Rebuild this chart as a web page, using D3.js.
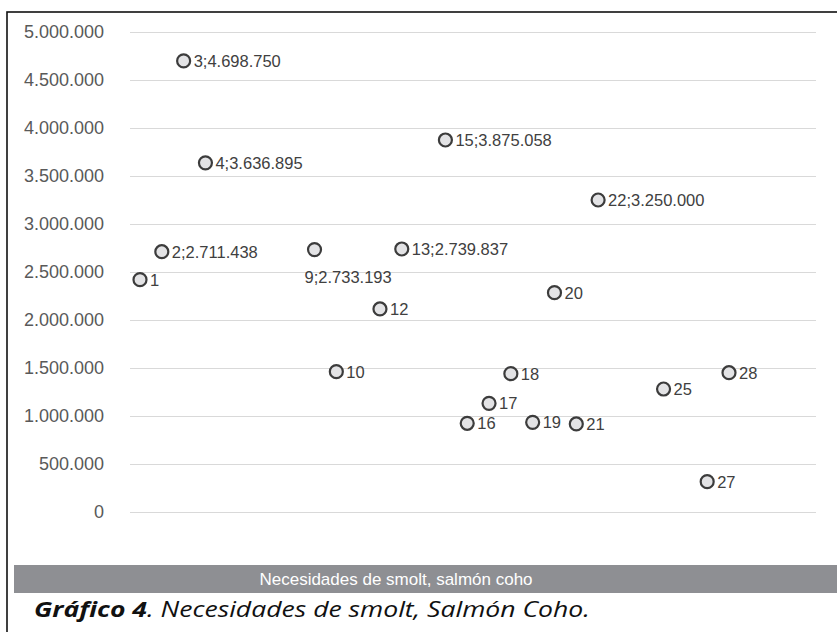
<!DOCTYPE html>
<html lang="es">
<head>
<meta charset="utf-8">
<script src="https://cdn.jsdelivr.net/npm/d3@7"></script>
<style>
  body { margin: 0; background: #fff; }
  svg { display: block; }
</style>
</head>
<body>
<script>
    // Data points (id = plant / site number, value = smolt needed)
    const ids = [1, 2, 3, 4, 9, 10, 12, 13, 15, 16, 17, 18, 19, 20, 21, 22, 25, 27, 28];
    const smolt = [2420000, 2711438, 4698750, 3636895, 2733193, 1462000, 2115000, 2739837, 3875058,
                   924000, 1132000, 1441000, 934000, 2285000, 917000, 3250000, 1281000, 316000, 1451000];
    // points whose label also shows the value
    const withValue = [2, 3, 4, 9, 13, 15, 22];
    const yTicks = [0, 500000, 1000000, 1500000, 2000000, 2500000, 3000000, 3500000, 4000000, 4500000, 5000000];
    const barTitle = 'Necesidades de smolt, salmón coho';
    const captionBold = 'Gráfico 4';
    const captionRest = '. Necesidades de smolt, Salmón Coho.';

    const w = 837
    const h = 632
    const plot = {left: 130, right: 816, top: 32, bottom: 512}

    const locale = d3.formatLocale({decimal: ',', thousands: '.', grouping: [3], currency: ['', '']});
    const fmt = locale.format(',d');

    const dataset = ids.map(function(id, i) { return {id: id, value: smolt[i]}; });

    const xScale = d3.scaleLinear()
        .domain([1, 28])
        .range([140, 729])
    const yScale = d3.scaleLinear()
        .domain([0, 5000000])
        .range([plot.bottom, plot.top])

    const svg = d3.select('body')
        .append('svg')
        .attr('width', w)
        .attr('height', h)

    // outer frame (runs off the right and bottom edges)
    svg.append('rect')
        .attr('x', 7)
        .attr('y', 12)
        .attr('width', w)
        .attr('height', h)
        .attr('fill', 'none')
        .attr('stroke', '#111')
        .attr('stroke-width', 1.6)

    // y axis with gridlines
    const yAxis = d3.axisLeft(yScale)
        .tickValues(yTicks)
        .tickFormat(fmt)
        .tickSize(-(plot.right - plot.left))
        .tickPadding(26)
    const gy = svg.append('g')
        .attr('transform', 'translate(' + plot.left + ',0)')
        .call(yAxis)
    gy.select('.domain').remove()
    gy.selectAll('line').attr('stroke', '#d9d9d9').attr('stroke-width', 1)
    gy.selectAll('text')
        .attr('fill', '#595959')
        .style('font-family', '"Liberation Sans", Arial, sans-serif')
        .style('font-size', '18px')

    // markers
    svg.append('g')
        .selectAll('circle')
        .data(dataset)
        .enter()
        .append('circle')
        .attr('cx', function(d) { return xScale(d.id); })
        .attr('cy', function(d) { return yScale(d.value); })
        .attr('r', 6.5)
        .attr('fill', '#e3e3e5')
        .attr('stroke', '#3c3c3c')
        .attr('stroke-width', 2.2)

    // data labels (label 9 sits under its marker)
    svg.append('g')
        .selectAll('text')
        .data(dataset)
        .enter()
        .append('text')
        .attr('x', function(d) { return d.id === 9 ? xScale(d.id) - 10 : xScale(d.id) + 10; })
        .attr('y', function(d) { return d.id === 9 ? yScale(d.value) + 33 : yScale(d.value) + 6; })
        .attr('fill', '#404040')
        .style('font-family', '"Liberation Sans", Arial, sans-serif')
        .style('font-size', '16.5px')
        .text(function(d) {
            return withValue.indexOf(d.id) >= 0 ? d.id + ';' + fmt(d.value) : d.id;
        })

    // grey title band
    svg.append('rect')
        .attr('x', 14)
        .attr('y', 565)
        .attr('width', w - 14)
        .attr('height', 28)
        .attr('fill', '#8e8f93')
    svg.append('text')
        .attr('x', 396)
        .attr('y', 585)
        .attr('text-anchor', 'middle')
        .attr('fill', '#ffffff')
        .style('font-family', '"Liberation Sans", Arial, sans-serif')
        .style('font-size', '17px')
        .text(barTitle)

    // caption
    const cap = svg.append('text')
        .attr('x', 34)
        .attr('y', 617)
        .attr('fill', '#111')
        .attr('textLength', 556)
        .attr('lengthAdjust', 'spacingAndGlyphs')
        .style('font-family', '"Open Sans", sans-serif')
        .style('font-style', 'italic')
        .style('font-size', '21px')
    cap.append('tspan').attr('font-weight', 'bold').text(captionBold)
    cap.append('tspan').text(captionRest)
</script>
</body>
</html>
